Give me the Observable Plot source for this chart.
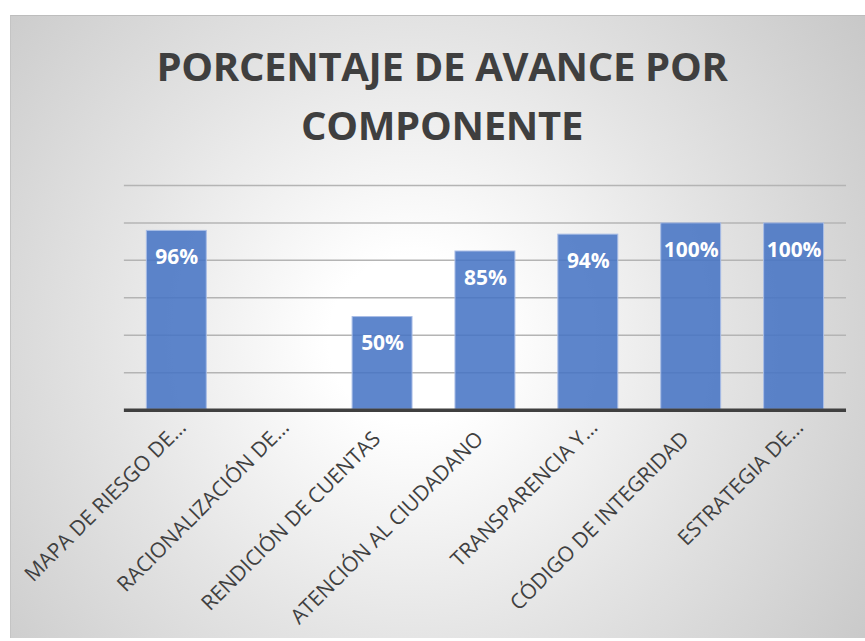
<!DOCTYPE html>
<html>
<head>
<meta charset="utf-8">
<script src="https://cdn.jsdelivr.net/npm/d3@7"></script>
<script src="https://cdn.jsdelivr.net/npm/@observablehq/plot@0.6"></script>
<style>
  html, body { margin: 0; padding: 0; background: #ffffff; }
  #frame {
    position: absolute; left: 10px; top: 15px; width: 855px; height: 623px;
    box-sizing: border-box;
    border-top: 1px solid #bdbdbd; border-left: 1px solid #c4c4c4;
    background: radial-gradient(circle farthest-corner at 47% 52%, #ffffff 0%, #ffffff 15%, #e4e4e4 55%, #c8c8c8 100%);
    overflow: hidden;
  }
  #title {
    padding-top: 20px; padding-left: 8px; height: 118px;
    font-family: "Open Sans", sans-serif; font-weight: 700; font-size: 40px;
    line-height: 59px; letter-spacing: -0.3px; color: #3f3f3f; text-align: center;
  }
  #chart svg { display: block; }
</style>
</head>
<body>
<div id="frame">
  <div id="title">PORCENTAJE DE AVANCE POR<br>COMPONENTE</div>
  <div id="chart"></div>
</div>
<script>
const categories = ["MAPA DE RIESGO DE…", "RACIONALIZACIÓN DE…", "RENDICIÓN DE CUENTAS", "ATENCIÓN AL CIUDADANO", "TRANSPARENCIA Y…", "CÓDIGO DE INTEGRIDAD", "ESTRATEGIA DE…"];
const values = [96, 0, 50, 85, 94, 100, 100];
const gridTicks = [20, 40, 60, 80, 100, 120];

const data = categories.map((c, i) => ({cat: c, value: values[i]}));
const baseText = c => c.endsWith("…") ? c.slice(0, -1) : c;

const chart = Plot.plot({
  width: 855,
  height: 484,
  marginLeft: 113,
  marginRight: 19,
  marginTop: 31,
  marginBottom: 228,
  style: {background: "transparent", fontFamily: "Open Sans, sans-serif"},
  x: {type: "band", domain: categories, paddingInner: 0.41, paddingOuter: 0.205, axis: null},
  y: {domain: [0, 120], axis: null},
  marks: [
    Plot.ruleY(gridTicks, {stroke: "#b4b4b4", strokeWidth: 1.5}),
    Plot.barY(data, {x: "cat", y: "value", fill: "#4472C4", fillOpacity: 0.86, stroke: "#a9bde6", strokeWidth: 1, inset: 0.5}),
    Plot.ruleY([0], {stroke: "#404040", strokeWidth: 3.5}),
    Plot.text(data.filter(d => d.value > 0), {x: "cat", y: "value", text: d => d.value + "%", dy: 27, fill: "white", fontWeight: "bold", fontSize: 21}),
    Plot.text(categories, {x: d => d, frameAnchor: "bottom", text: baseText, rotate: -45, textAnchor: "end", dx: -1, dy: 30, fontSize: 21, fill: "#404040"}),
    Plot.text(categories.filter(c => c.endsWith("…")), {x: d => d, frameAnchor: "bottom", text: () => "…", rotate: -45, textAnchor: "start", dx: -1, dy: 30, fontSize: 21, fill: "#404040"})
  ]
});
document.getElementById("chart").appendChild(chart);
</script>
</body>
</html>
